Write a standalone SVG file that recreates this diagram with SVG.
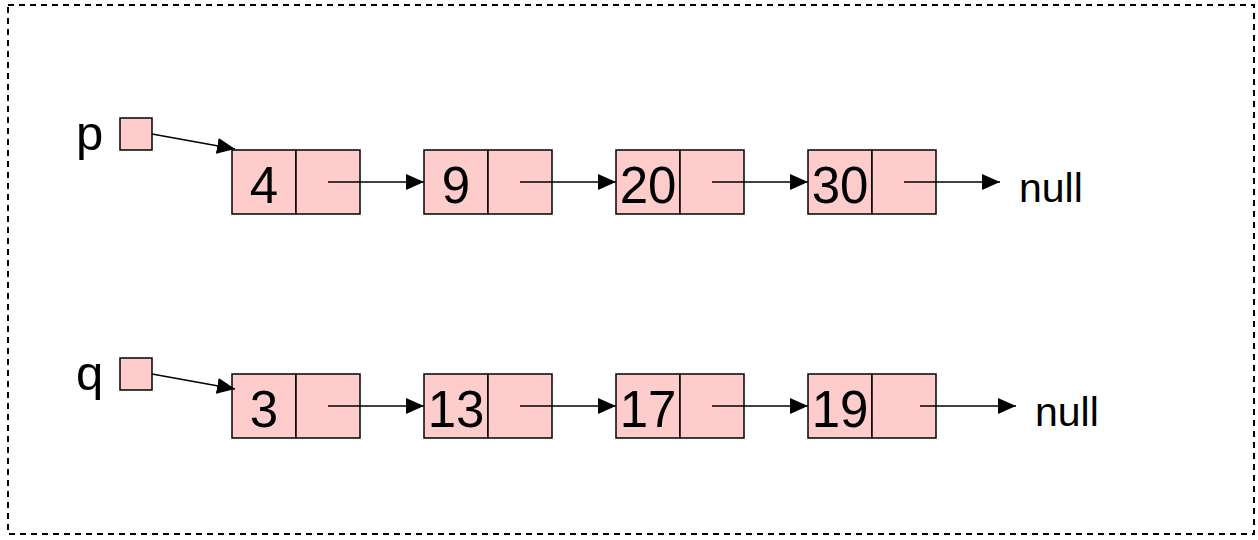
<svg xmlns="http://www.w3.org/2000/svg" width="1258" height="540" viewBox="0 0 1258 540">
<defs>
<marker id="ah" markerWidth="18" markerHeight="16" refX="18" refY="8" orient="auto" markerUnits="userSpaceOnUse">
<path d="M0,0 L18,8 L0,16 Z" fill="#000"/>
</marker>
<style>
.cell{fill:#FFCCCC;stroke:#000;stroke-width:1.5}
.num{font-family:"Liberation Sans",Arial,sans-serif;font-size:51px;fill:#000;text-anchor:middle}
.lbl{font-family:"Liberation Sans",Arial,sans-serif;font-size:49px;fill:#000}
.nul{font-family:"Liberation Sans",Arial,sans-serif;font-size:41px;fill:#000}
.ln{stroke:#000;stroke-width:1.5;fill:none;marker-end:url(#ah)}
</style>
</defs>
<rect x="8" y="5" width="1246" height="529" fill="#fff" stroke="#000" stroke-width="2" stroke-dasharray="6,5"/>
<g id="p">
<text class="lbl" x="76" y="150">p</text>
<rect class="cell" x="120" y="118" width="32" height="32"/>
</g>
<g id="q">
<text class="lbl" x="76" y="390">q</text>
<rect class="cell" x="120" y="358" width="32" height="32"/>
</g>
<g id="n4"><rect class="cell" x="232" y="150" width="64" height="64"/><rect class="cell" x="296" y="150" width="64" height="64"/><text class="num" x="264" y="203">4</text></g>
<g id="n9"><rect class="cell" x="424" y="150" width="64" height="64"/><rect class="cell" x="488" y="150" width="64" height="64"/><text class="num" x="456" y="203">9</text></g>
<g id="n20"><rect class="cell" x="616" y="150" width="64" height="64"/><rect class="cell" x="680" y="150" width="64" height="64"/><text class="num" x="648" y="203">20</text></g>
<g id="n30"><rect class="cell" x="808" y="150" width="64" height="64"/><rect class="cell" x="872" y="150" width="64" height="64"/><text class="num" x="840" y="203">30</text></g>
<g id="n3"><rect class="cell" x="232" y="374" width="64" height="64"/><rect class="cell" x="296" y="374" width="64" height="64"/><text class="num" x="264" y="427">3</text></g>
<g id="n13"><rect class="cell" x="424" y="374" width="64" height="64"/><rect class="cell" x="488" y="374" width="64" height="64"/><text class="num" x="456" y="427">13</text></g>
<g id="n17"><rect class="cell" x="616" y="374" width="64" height="64"/><rect class="cell" x="680" y="374" width="64" height="64"/><text class="num" x="648" y="427">17</text></g>
<g id="n19"><rect class="cell" x="808" y="374" width="64" height="64"/><rect class="cell" x="872" y="374" width="64" height="64"/><text class="num" x="840" y="427">19</text></g>
<g id="null1"><text class="nul" x="1019" y="202">null</text></g>
<g id="null2"><text class="nul" x="1035" y="426">null</text></g>
<g id="connectors">
<line class="ln" x1="152" y1="134" x2="235" y2="149"/>
<line class="ln" x1="152" y1="374" x2="235" y2="389"/>
<line class="ln" x1="328" y1="182" x2="424" y2="182"/>
<line class="ln" x1="520" y1="182" x2="616" y2="182"/>
<line class="ln" x1="712" y1="182" x2="808" y2="182"/>
<line class="ln" x1="904" y1="182" x2="1000" y2="182"/>
<line class="ln" x1="328" y1="406" x2="424" y2="406"/>
<line class="ln" x1="520" y1="406" x2="616" y2="406"/>
<line class="ln" x1="712" y1="406" x2="808" y2="406"/>
<line class="ln" x1="920" y1="406" x2="1016" y2="406"/>
</g>
</svg>
